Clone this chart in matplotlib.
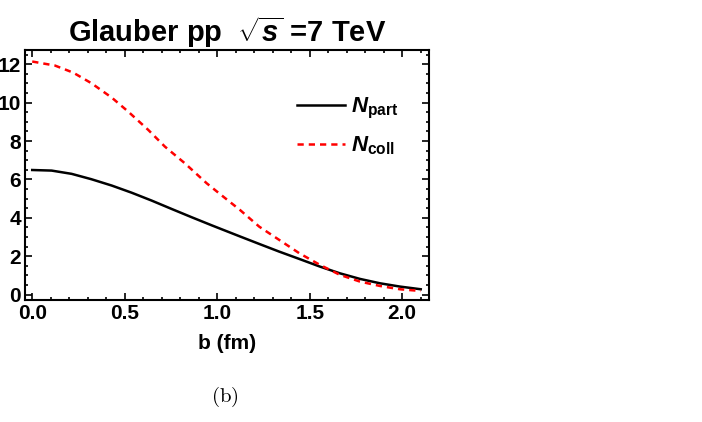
import matplotlib
matplotlib.use("Agg")
import matplotlib.pyplot as plt
from matplotlib.ticker import MultipleLocator

# values
b_part = [0.0, 0.105, 0.213, 0.32, 0.43, 0.537, 0.645, 0.754, 0.862, 0.97, 1.02,
	1.123, 1.227, 1.335, 1.443, 1.555, 1.663, 1.771, 1.88, 1.987, 2.1]
n_part = [6.49, 6.46, 6.29, 6.01, 5.68, 5.31, 4.9, 4.46, 4.03, 3.61, 3.42,
	3.03, 2.64, 2.24, 1.86, 1.46, 1.11, 0.82, 0.59, 0.42, 0.28]

b_coll = [0.0, 0.123, 0.222, 0.32, 0.43, 0.519, 0.627, 0.717, 0.825, 0.943, 1.02,
	1.123, 1.227, 1.335, 1.443, 1.555, 1.663, 1.771, 1.88, 1.987, 2.1]
n_coll = [12.14, 11.93, 11.56, 11.01, 10.26, 9.53, 8.58, 7.71, 6.84, 5.8, 5.2,
	4.41, 3.54, 2.85, 2.16, 1.55, 1.03, 0.68, 0.45, 0.28, 0.19]

xticks = [0.0, 0.5, 1.0, 1.5, 2.0]
yticks = [0, 2, 4, 6, 8, 10, 12]

plt.rcParams['font.family'] = 'Liberation Sans'
plt.rcParams['font.weight'] = 'bold'
plt.rcParams['mathtext.fontset'] = 'custom'
plt.rcParams['mathtext.rm'] = 'Liberation Sans:bold'
plt.rcParams['mathtext.it'] = 'Liberation Sans:italic:bold'
plt.rcParams['mathtext.bf'] = 'Liberation Sans:bold'

fig = plt.figure(figsize=(7.02, 4.22), dpi=100)
ax = fig.add_axes([25/702, 1-300/422, 403.5/702, 250/422])

ax.plot(b_part, n_part, color='black', lw=1.8, label=r'$N_{\mathrm{part}}$')
ax.plot(b_coll, n_coll, color='red', lw=1.8, ls=(0, (2.5, 2.0)), label=r'$N_{\mathrm{coll}}$')

ax.set_xlim(-0.039, 2.142)
ax.set_ylim(-0.28, 12.74)
ax.set_xticks(xticks)
ax.set_yticks(yticks)
ax.set_xticklabels(['%.1f' % t for t in xticks], fontsize=15, fontweight='bold')
ax.set_yticklabels([str(t) for t in yticks], fontsize=15, fontweight='bold')
ax.xaxis.set_minor_locator(MultipleLocator(0.1))
ax.yaxis.set_minor_locator(MultipleLocator(0.5))
ax.tick_params(which='both', direction='in', top=True, right=True, width=1.2)
ax.tick_params(which='major', length=5, pad=3)
ax.tick_params(which='minor', length=2.5)
for s in ax.spines.values():
	s.set_linewidth(1.5)

ax.set_title(r'Glauber pp  $\sqrt{s}$ =7 TeV', fontsize=21, fontweight='bold', pad=6)
ax.set_xlabel('b (fm)', fontsize=15, fontweight='bold', labelpad=8)

leg = ax.legend(loc='upper right', bbox_to_anchor=(0.975, 0.895), frameon=False,
	fontsize=16, handlelength=2.2, handletextpad=0.25, labelspacing=0.6)

fig.text(225/702, 1-397/422, r'$\mathrm{(b)}$', math_fontfamily='cm', fontsize=15,
	ha='center', va='center')

fig.savefig('out.png', dpi=100)
